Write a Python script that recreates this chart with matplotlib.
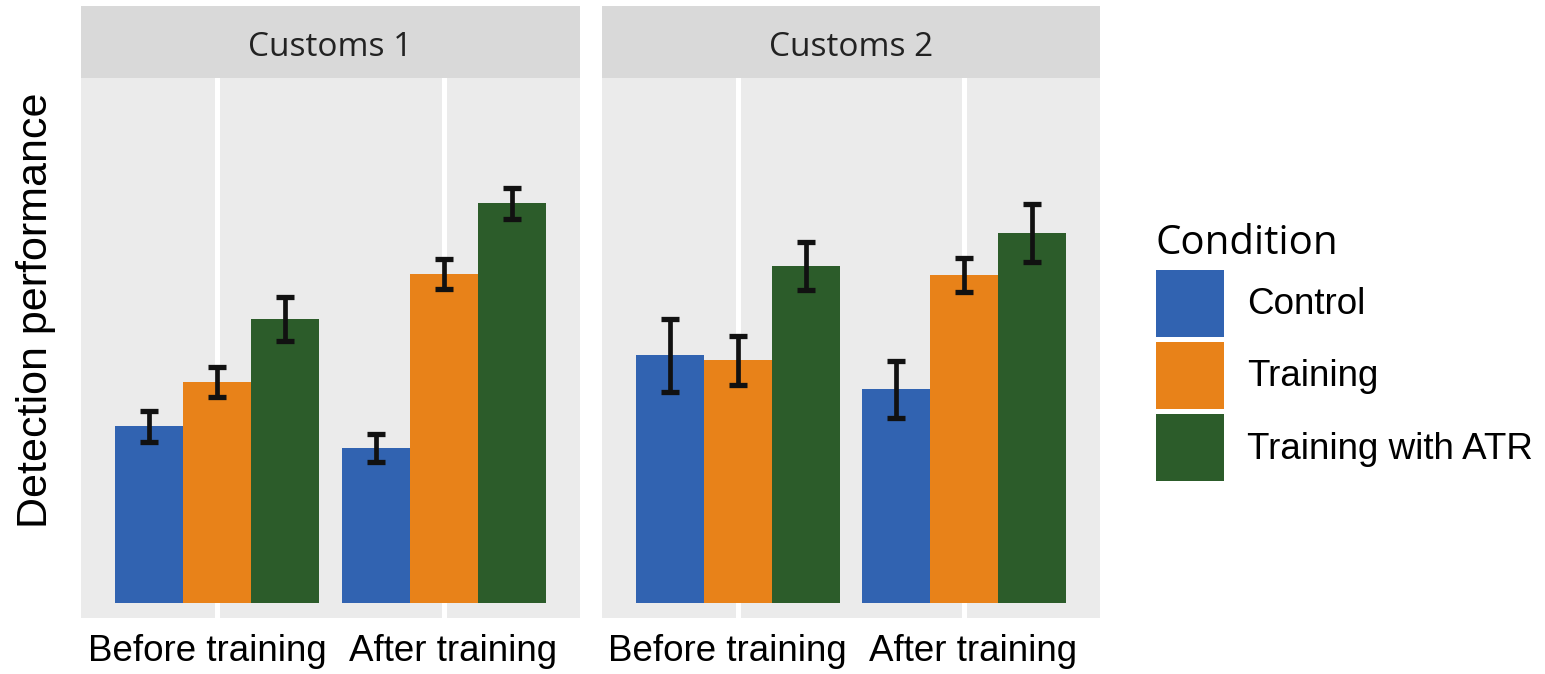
import matplotlib
matplotlib.use("Agg")
import matplotlib.pyplot as plt
import matplotlib.transforms as mtransforms
import numpy as np

# ---- data -------------------------------------------------------------
periods = ["Before training", "After training"]
conditions = ["Control", "Training", "Training with ATR"]
sites = ["Customs 1", "Customs 2"]

# mean detection performance per period (Before, After)
c1_control = [1.77, 1.55]
c1_training = [2.21, 3.29]
c1_atr = [2.84, 4.00]
c2_control = [2.48, 2.14]
c2_training = [2.43, 3.28]
c2_atr = [3.37, 3.70]

# standard errors
c1_control_err = [0.155, 0.14]
c1_training_err = [0.15, 0.15]
c1_atr_err = [0.22, 0.155]
c2_control_err = [0.365, 0.285]
c2_training_err = [0.245, 0.17]
c2_atr_err = [0.24, 0.29]

site_means = [[c1_control, c1_training, c1_atr],
              [c2_control, c2_training, c2_atr]]
site_errs = [[c1_control_err, c1_training_err, c1_atr_err],
             [c2_control_err, c2_training_err, c2_atr_err]]

colors = ["#3163B1", "#E88219", "#2C5C2A"]

# ---- figure -----------------------------------------------------------
W, H = 1545, 674
fig = plt.figure(figsize=(W / 100, H / 100), dpi=100)
fig.patch.set_facecolor("white")


def px_rect(x0, y0, x1, y1):
    return [x0 / W, (H - y1) / H, (x1 - x0) / W, (y1 - y0) / H]


panel_x = [(81, 580), (602, 1100)]
label_shift = [-0.045, 0.04]
bar_w = 0.3
handles = []

for s, (x0, x1) in enumerate(panel_x):
    ax = fig.add_axes(px_rect(x0, 78, x1, 618))
    ax.set_facecolor("#EBEBEB")
    ax.set_xlim(0.4, 2.6)
    ax.set_ylim(-0.15, 5.25)
    ax.set_xticks([1, 2])
    ax.set_xticklabels([])
    ax.set_yticks([])
    ax.tick_params(length=0)
    ax.grid(axis="x", color="white", linewidth=3.6)
    ax.set_axisbelow(True)
    for sp in ax.spines.values():
        sp.set_visible(False)

    x = np.arange(1, len(periods) + 1)
    for c, cond in enumerate(conditions):
        xpos = x + (c - 1) * bar_w
        b = ax.bar(xpos, site_means[s][c], width=bar_w, color=colors[c],
                   label=cond, zorder=2)
        ax.errorbar(xpos, site_means[s][c], yerr=site_errs[s][c], fmt="none",
                    ecolor="#111111", elinewidth=3.4, capsize=6.3,
                    capthick=3.8, zorder=3)
        if s == 0:
            handles.append(b)

    label_tf = mtransforms.blended_transform_factory(ax.transData, fig.transFigure)
    for i, p in enumerate(periods):
        ax.text(x[i] + label_shift[i], (H - 661) / H, p, transform=label_tf,
                ha="center", va="baseline", fontsize=26.5,
                family="Liberation Sans", color="black")

    # facet strip
    sax = fig.add_axes(px_rect(x0, 6, x1, 78))
    sax.set_facecolor("#D9D9D9")
    sax.set_xticks([])
    sax.set_yticks([])
    for sp in sax.spines.values():
        sp.set_visible(False)
    sax.text(0.5, 0.42, sites[s], ha="center", va="center", fontsize=24,
             family="Open Sans", color="#222222", transform=sax.transAxes)

fig.text(36 / W, (H - 310) / H, "Detection performance", rotation=90,
         ha="center", va="center", fontsize=31, family="Liberation Sans")

leg = fig.legend(handles=handles, labels=conditions, title="Condition",
                 loc="upper left", bbox_to_anchor=(1156 / W, (H - 224) / H),
                 frameon=False, borderpad=0, borderaxespad=0,
                 handlelength=1.85, handleheight=2.42, labelspacing=0.14,
                 handletextpad=0.62, alignment="left",
                 prop={"family": "Liberation Sans", "size": 26.5})
leg.get_title().set_fontfamily("Open Sans")
leg.get_title().set_fontsize(29)

fig.savefig("out.png", dpi=100, facecolor="white")
